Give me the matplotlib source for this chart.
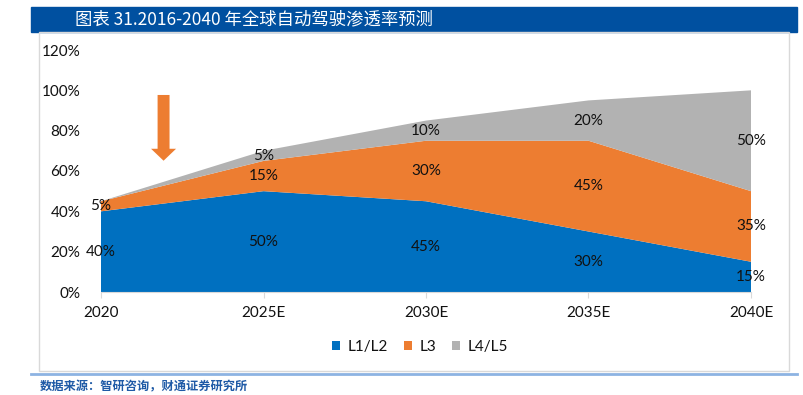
import matplotlib.pyplot as plt
import numpy as np
from matplotlib.patches import Rectangle
from matplotlib.lines import Line2D

plt.rcParams['font.family'] = ['Lato', 'Noto Sans CJK SC', 'DejaVu Sans']

years = ['2020', '2025E', '2030E', '2035E', '2040E']
l12 = [40, 50, 45, 30, 15]
l3 = [5, 15, 30, 45, 35]
l45 = [0, 5, 10, 20, 50]
series_names = ['L1/L2', 'L3', 'L4/L5']
colors = ['#0070C0', '#ED7D31', '#B2B2B2']

fig = plt.figure(figsize=(8.04, 3.95), dpi=100)
W, H = 804, 395

# title bar
fig.patches.append(Rectangle((31 / W, 1 - 32 / H), 766 / W, 25 / H,
                             transform=fig.transFigure, color='#0050A0', zorder=0))
fig.text(75 / W, 1 - 19.5 / H, '图表 31.2016-2040 年全球自动驾驶渗透率预测',
         color='white', fontsize=12.5, va='center', ha='left',
         family=['Noto Sans CJK SC', 'DejaVu Sans'])
# chart frame
fig.patches.append(Rectangle((39 / W, 1 - 371 / H), 750 / W, 339 / H,
                             transform=fig.transFigure, fill=False,
                             edgecolor='#D9D9D9', lw=1, zorder=0))
# bottom rule + source
fig.lines.append(Line2D([31 / W, 797 / W], [1 - 374 / H, 1 - 374 / H],
                        transform=fig.transFigure, color='#8DB3E2', lw=2))
fig.text(40 / W, 1 - 387 / H, '数据来源：智研咨询，财通证券研究所',
         color='#1F5AA6', fontsize=8.8, fontweight='bold', va='center', ha='left',
         family=['Noto Sans CJK SC', 'DejaVu Sans'])

ax = fig.add_axes([101 / W, 1 - 292 / H, 650 / W, 242 / H])
x = np.arange(len(years))
data = np.array([l12, l3, l45]) / 100
ax.stackplot(x, data, colors=colors, labels=series_names, lw=0)

ax.set_xlim(0, len(years) - 1)
ax.set_ylim(0, 1.2)
ax.set_yticks(np.arange(0, 1.21, 0.2))
ax.set_yticklabels([f'{int(round(v * 100))}%' for v in np.arange(0, 1.21, 0.2)])
ax.set_xticks(x)
ax.set_xticklabels(years)
for s in ['top', 'right', 'left']:
    ax.spines[s].set_visible(False)
ax.spines['bottom'].set_color('#D9D9D9')
ax.tick_params(axis='y', length=0, pad=15, labelsize=11, labelcolor='#111111')
ax.tick_params(axis='x', length=4, color='#D9D9D9', pad=6, labelsize=11,
               labelcolor='#111111')

# data labels
bottoms = np.vstack([np.zeros(len(years)), np.cumsum(data, axis=0)[:-1]])
for row, base in zip(data, bottoms):
    for i, v in enumerate(row):
        if v > 0:
            ax.text(x[i], base[i] + v / 2, f'{int(round(v * 100))}%',
                    ha='center', va='center', fontsize=11, color='#111111',
                    clip_on=False)

# arrow marker
arrow_x = 0.385
ax.annotate('', xy=(arrow_x, 0.651), xytext=(arrow_x, 0.977),
            arrowprops=dict(arrowstyle='simple,head_length=8.6,head_width=18,tail_width=8.6',
                            mutation_scale=1, color='#ED7D31', shrinkA=0, shrinkB=0, lw=0))

leg = fig.legend(loc='center', bbox_to_anchor=(420 / W, 1 - 347 / H), ncol=3,
                 frameon=False, fontsize=11, handlelength=0.55, handleheight=0.55,
                 handletextpad=0.5, columnspacing=1.0)
for t in leg.get_texts():
    t.set_color('#111111')

fig.savefig('out.png', dpi=100)
